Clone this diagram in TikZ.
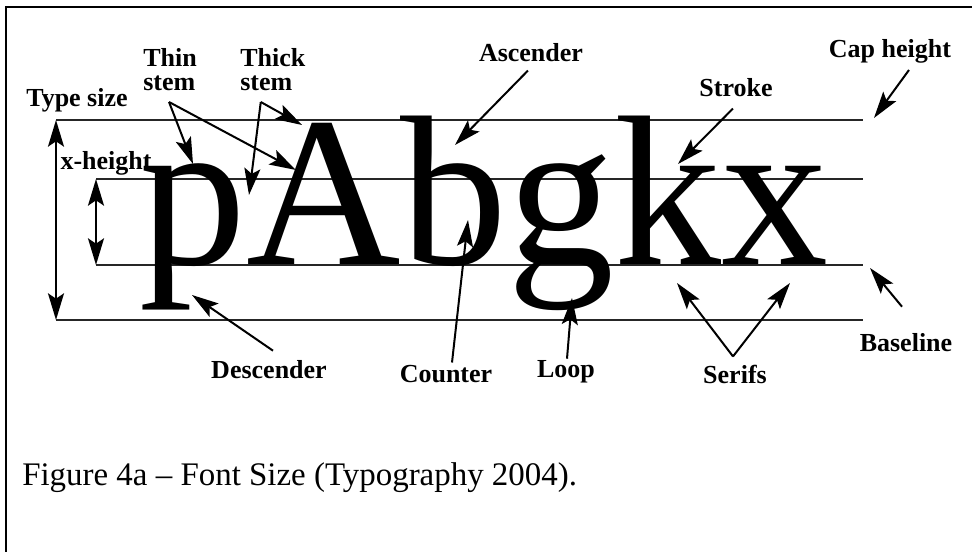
\documentclass[tikz,border=0pt]{standalone}
\usepackage{fontspec}
\setmainfont{Liberation Serif}
\usepackage{tikz}
\usetikzlibrary{arrows.meta, positioning, calc}
\newcommand{\lblfont}{\fontsize{19.5pt}{18pt}\selectfont\bfseries}
\newcommand{\capfont}{\fontsize{24.7pt}{30pt}\selectfont}
\newcommand{\glyphfont}{\fontsize{160.5pt}{160pt}\selectfont}
\tikzset{
	% frame and guide lines
	boxline/.style={line width=1.9pt, black},
	guide/.style  ={line width=1.6pt, black!85},
	% labels
	lbl/.style    ={font=\lblfont, inner sep=0pt, anchor=base},
	% arrows
	ptr/.style    ={-{Stealth[length=20pt, width=12pt, inset=4pt]}, line width=1.5pt},
	dimarr/.style ={{Stealth[length=20pt, width=12pt, inset=4pt]}-{Stealth[length=20pt, width=12pt, inset=4pt]}, line width=1.5pt},
}
\begin{document}
\begin{tikzpicture}[x=0.75pt, y=-0.75pt]
	\useasboundingbox (0,0) rectangle (972,552);
	\draw[boxline] (6,570) |- (990,7);
	% guide lines
	\foreach \n/\x/\y in {cap/56/120, xh/96/179, base/96/265, desc/56/320} {
		\coordinate (\n-l) at (\x,\y);
		\coordinate (\n-r) at (863,\y);
		\draw[guide] (\n-l) -- (\n-r);
	}
	% specimen
	\node[font=\glyphfont, inner sep=0pt, anchor=base west] (word) at (139,265) {pAbgkx};
	% dimension arrows
	\draw[dimarr] (cap-l) -- (desc-l);
	\draw[dimarr] (xh-l) -- (base-l);
	% labels
	\node[lbl] (typesize) at (77,107) {Type size};
	\node[lbl] (xheight) at (106,170) {x-height};
	\node[lbl, align=left, anchor=south west] (thin) at (143,91) {Thin\\stem};
	\node[lbl, align=left, anchor=south west] (thick) at (240,91) {Thick\\stem};
	\foreach \n/\x/\y/\l in {
		ascender/531/62/{Ascender},
		stroke/736/97/{Stroke},
		capheight/890/58/{Cap height},
		descender/269/379/{Descender},
		counter/446/383/{Counter},
		loop/566/378/{Loop},
		serifs/735/384/{Serifs},
		baseline/906/352/{Baseline}} {
		\node[lbl] (\n) at (\x,\y) {\l};
	}
	% arrow targets
	\coordinate (tThinP) at (193,164);
	\coordinate (tThinA) at (296,170);
	\coordinate (tThickP) at (249,195);
	\coordinate (tThickA) at (302,125);
	\coordinate (tAsc) at (455,145);
	\coordinate (tStroke) at (678,164);
	\coordinate (tCap) at (874,118);
	\coordinate (tDesc) at (192,295);
	\coordinate (tCounter) at (468,220);
	\coordinate (tLoop) at (572,298);
	\coordinate (tSerifL) at (677,283);
	\coordinate (tSerifR) at (790,283);
	\coordinate (tBase) at (870,268);
	% pointers
	\draw[ptr] ($(thin.south)+(-1,11)$) -- (tThinP);
	\draw[ptr] ($(thin.south)+(-1,11)$) -- (tThinA);
	\draw[ptr] ($(thick.south)+(-12,11)$) -- (tThickP);
	\draw[ptr] ($(thick.south)+(-12,11)$) -- (tThickA);
	\draw[ptr] ($(ascender.south)+(-3,8)$) -- (tAsc);
	\draw[ptr] ($(stroke.south)+(-3,11)$) -- (tStroke);
	\draw[ptr] ($(capheight.south)+(19,6)$) -- (tCap);
	\draw[ptr] ($(descender.north)+(4,-10)$) -- (tDesc);
	\draw[ptr] ($(counter.north)+(6,-3)$) -- (tCounter);
	\draw[ptr] ($(loop.north)+(1,-2)$) -- (tLoop);
	\draw[ptr] ($(serifs.north)+(-2,-9)$) -- (tSerifL);
	\draw[ptr] ($(serifs.north)+(-2,-9)$) -- (tSerifR);
	\draw[ptr] ($(baseline.north)+(-4,-27)$) -- (tBase);
	% caption
	\node[font=\capfont, inner sep=0pt, anchor=base west] (caption) at (22,485) {Figure 4a – Font Size (Typography 2004).};
\end{tikzpicture}
\end{document}
